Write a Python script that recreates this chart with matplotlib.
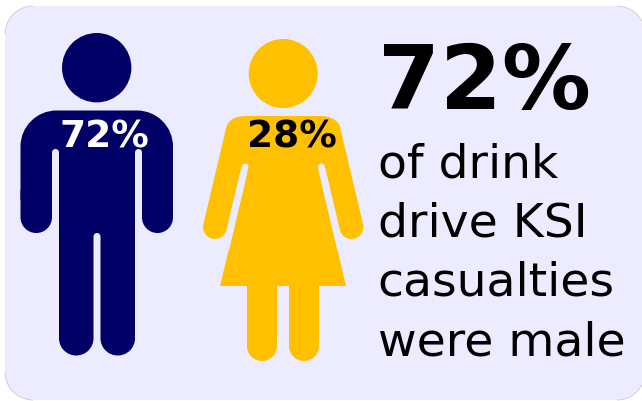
import matplotlib
matplotlib.use('Agg')
import matplotlib.pyplot as plt
from matplotlib.path import Path
from matplotlib.patches import Arc, Circle, PathPatch, Polygon

male_share = 72
female_share = 28
caption_lines = ['of drink', 'drive KSI', 'casualties', 'were male']

NAVY = '#000066'
AMBER = '#ffc000'
PANEL = '#ecebff'
K = 0.5523


def rrect(ax, x0, y0, x1, y1, rt, rb, color):
    # box with circular corners, rt on top and rb on the bottom (y runs downwards)
    verts = [(x0 + rt, y0), (x1 - rt, y0),
             (x1 - rt + K * rt, y0), (x1, y0 + rt - K * rt), (x1, y0 + rt),
             (x1, y1 - rb),
             (x1, y1 - rb + K * rb), (x1 - rb + K * rb, y1), (x1 - rb, y1),
             (x0 + rb, y1),
             (x0 + rb - K * rb, y1), (x0, y1 - rb + K * rb), (x0, y1 - rb),
             (x0, y0 + rt),
             (x0, y0 + rt - K * rt), (x0 + rt - K * rt, y0), (x0 + rt, y0)]
    codes = [Path.MOVETO, Path.LINETO,
             Path.CURVE4, Path.CURVE4, Path.CURVE4,
             Path.LINETO,
             Path.CURVE4, Path.CURVE4, Path.CURVE4,
             Path.LINETO,
             Path.CURVE4, Path.CURVE4, Path.CURVE4,
             Path.LINETO,
             Path.CURVE4, Path.CURVE4, Path.CURVE4]
    ax.add_patch(PathPatch(Path(verts, codes), fc=color, ec='none', lw=0))


def man(ax):
    ax.add_patch(Circle((96.7, 67.7), 34.7, fc=NAVY, ec='none'))
    rrect(ax, 20.5, 110.5, 173, 200, 36, 0, NAVY)
    # slots between arms and body
    rrect(ax, 52, 149, 59, 205, 3.5, 0, PANEL)
    rrect(ax, 135, 149, 142, 205, 3.5, 0, PANEL)
    # arms
    rrect(ax, 20.5, 190, 52, 233, 0, 15.7, NAVY)
    rrect(ax, 142, 190, 173, 233, 0, 15.5, NAVY)
    # lower body and legs
    rrect(ax, 59, 190, 135, 240, 0, 0, NAVY)
    rrect(ax, 93.5, 233, 100.5, 245, 3.5, 0, PANEL)
    rrect(ax, 59, 240, 93.5, 355.5, 0, 17.2, NAVY)
    rrect(ax, 100.5, 240, 135, 355.5, 0, 17.2, NAVY)


def woman(ax):
    ax.add_patch(Circle((283.2, 73.5), 34.5, fc=AMBER, ec='none'))
    # arms, as thick round-capped strokes
    for x0, x1 in ((238, 215), (328.4, 351.4)):
        ax.plot([x0, x1], [130, 227], color=AMBER, lw=24 * 0.72, solid_capstyle='round')
    # shoulders
    verts = [(216.5, 175), (226, 130), (229.5, 116), (245, 116), (321, 116),
             (336.5, 116), (340, 130), (349.5, 175), (216.5, 175)]
    codes = [Path.MOVETO, Path.LINETO, Path.CURVE3, Path.CURVE3, Path.LINETO,
             Path.CURVE3, Path.CURVE3, Path.LINETO, Path.CLOSEPOLY]
    ax.add_patch(PathPatch(Path(verts, codes), fc=AMBER, ec='none', lw=0))
    # slots between arms and dress
    for xs in ((245, 226), (321.4, 340.4)):
        ax.plot(xs, [167, 248], color=PANEL, lw=7 * 0.72, solid_capstyle='round')
    # dress
    ax.add_patch(Polygon([(248.6, 167), (317.8, 167), (346, 286), (220, 286)],
                         fc=AMBER, ec='none', lw=0))
    # legs
    rrect(ax, 247, 285, 277, 361, 0, 15, AMBER)
    rrect(ax, 289, 285, 319, 361, 0, 15, AMBER)


fig = plt.figure(figsize=(6.42, 4.01), dpi=100)
ax = fig.add_axes([0, 0, 1, 1])
ax.set_xlim(0, 642)
ax.set_ylim(401, 0)
ax.axis('off')

# background card, only the corners carry a thin grey edge
rrect(ax, 5, 6, 645, 400, 28, 28, PANEL)
for cx, cy, t1, t2 in ((33, 34, 180, 270), (617, 34, 270, 360), (33, 372, 90, 180), (617, 372, 0, 90)):
    ax.add_patch(Arc((cx, cy), 56, 56, theta1=t1, theta2=t2, color='#c4c4cc', lw=0.5))

man(ax)
woman(ax)

ax.text(104.5, 147.5, '%d%%' % male_share, color='white', fontsize=27, fontweight='bold',
        ha='center', va='baseline')
ax.text(292, 148, '%d%%' % female_share, color='black', fontsize=27, fontweight='bold',
        ha='center', va='baseline')
ax.text(378, 108.5, '%d%%' % male_share, color='black', fontsize=64, fontweight='bold',
        ha='left', va='baseline')
for line, y in zip(caption_lines, (177, 236.5, 296, 356)):
    ax.text(377.5, y, line, color='black', fontsize=34, ha='left', va='baseline')

fig.savefig('out.png', dpi=100)
